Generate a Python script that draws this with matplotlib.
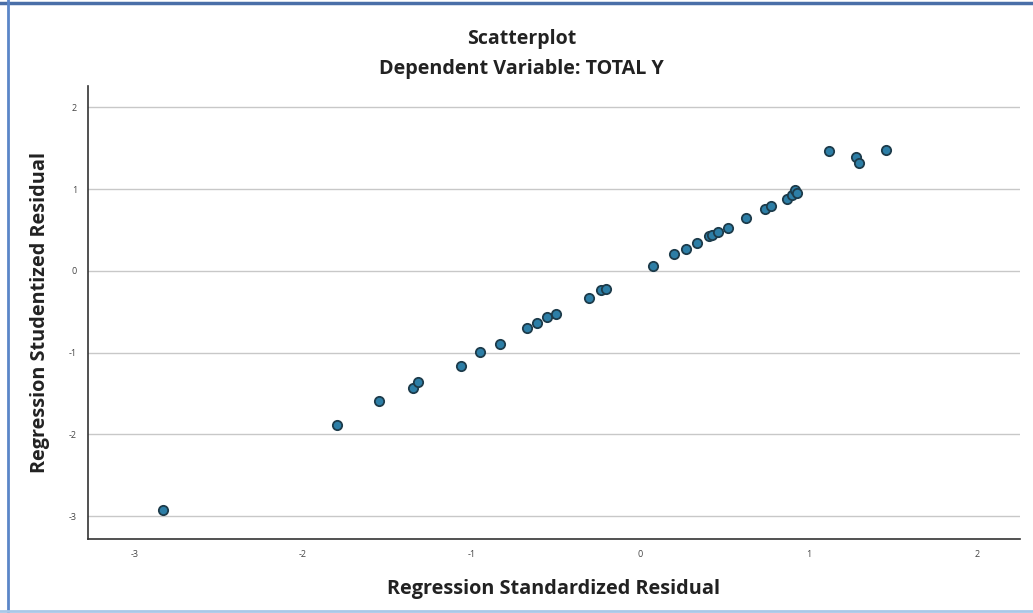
import numpy as np
import matplotlib.pyplot as plt
from matplotlib.lines import Line2D

# Regression residuals
std_resid = [-2.83, -1.80, -1.55, -1.35, -1.32, -1.06, -0.95, -0.83,
             -0.67, -0.61, -0.55, -0.50, -0.30, -0.23, -0.20, 0.08,
             0.20, 0.27, 0.34, 0.41, 0.43, 0.46, 0.52, 0.63, 0.74,
             0.78, 0.87, 0.90, 0.92, 0.93, 1.12, 1.28, 1.30, 1.46]
stud_resid = [-2.92, -1.88, -1.59, -1.43, -1.36, -1.17, -0.99, -0.89,
              -0.70, -0.64, -0.56, -0.53, -0.33, -0.24, -0.22, 0.06,
              0.20, 0.27, 0.34, 0.42, 0.44, 0.48, 0.52, 0.65, 0.75,
              0.79, 0.88, 0.93, 0.99, 0.95, 1.47, 1.39, 1.32, 1.48]
x_ticks = [-3, -2, -1, 0, 1, 2]
y_ticks = [-3, -2, -1, 0, 1, 2]

plt.rcParams['font.family'] = ['Open Sans', 'DejaVu Sans']
plt.rcParams['axes.unicode_minus'] = False

fig = plt.figure(figsize=(10.33, 6.13), dpi=100)
ax = fig.add_axes([0.0852, 0.1207, 0.9022, 0.739])

ax.scatter(std_resid, stud_resid, s=45, c='#2d7ea6', edgecolors='#1d3b4a',
           linewidths=1.3, zorder=3)

ax.set_xlim(-3.276, 2.255)
ax.set_ylim(-3.28, 2.26)
ax.set_xticks(x_ticks)
ax.set_yticks(y_ticks)
ax.tick_params(length=0, labelsize=6.5, labelcolor='#444444', pad=8)
ax.grid(axis='y', color='#c8c8c8', linewidth=1.0)
ax.set_axisbelow(True)
for side in ['top', 'right']:
    ax.spines[side].set_visible(False)
for side in ['left', 'bottom']:
    ax.spines[side].set_color('#333333')
    ax.spines[side].set_linewidth(1.2)

ax.set_xlabel('Regression Standardized Residual', fontsize=14.3, fontweight='bold',
              color='#222222')
ax.set_ylabel('Regression Studentized Residual', fontsize=14.3, fontweight='bold',
              color='#222222')
ax.xaxis.set_label_coords(0.5, -0.088)
ax.yaxis.set_label_coords(-0.041, 0.5)

fig.text(0.505, 0.937, 'Scatterplot', ha='center', va='center',
         fontsize=14, fontweight='bold', color='#222222')
fig.text(0.505, 0.887, 'Dependent Variable: TOTAL Y', ha='center', va='center',
         fontsize=14.2, fontweight='bold', color='#222222')

# window frame around the screenshot
fig.add_artist(Line2D([0, 1], [0.995, 0.995], transform=fig.transFigure,
                      color='#4a6fa8', linewidth=2.5))
fig.add_artist(Line2D([0.008, 0.008], [0, 1], transform=fig.transFigure,
                      color='#5b86c8', linewidth=2))
fig.add_artist(Line2D([0, 1], [0.004, 0.004], transform=fig.transFigure,
                      color='#a9c8e8', linewidth=2))

fig.savefig('out.png', dpi=100)
